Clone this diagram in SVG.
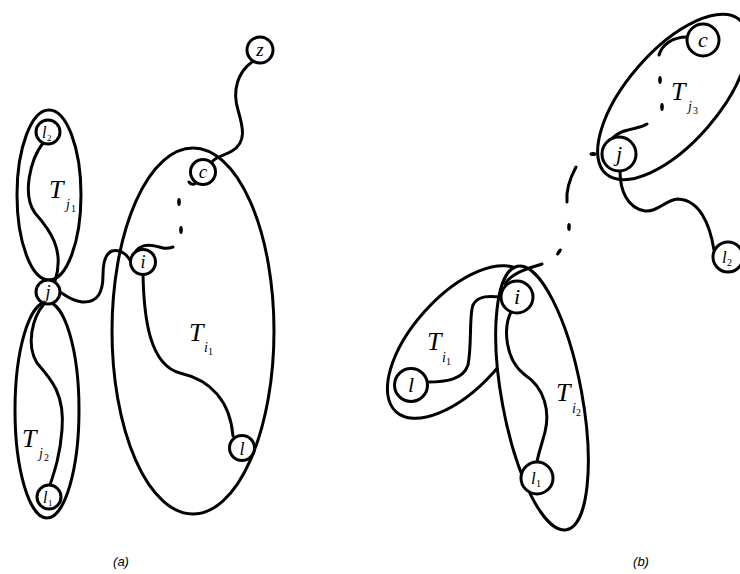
<svg xmlns="http://www.w3.org/2000/svg" width="740" height="574" viewBox="0 0 740 574">
<style>
.e{fill:none;stroke:#000;stroke-width:3}
.ew{fill:#fff;stroke:#000;stroke-width:3}
.n{fill:#fff;stroke:#000;stroke-width:3}
.c{fill:none;stroke:#000;stroke-width:3;stroke-linecap:round}
.d{fill:#000}
.t{font-family:"Liberation Serif","Times New Roman",serif;font-style:italic;fill:#000}
.u{font-style:normal}
.T{font-size:26px}
.s{font-size:14px}
.ss{font-size:10px}
.cap{font-family:"Liberation Sans",Arial,sans-serif;font-style:italic;font-size:13px;fill:#000}
</style>
<rect width="740" height="574" fill="#fff"/>

<!-- trees (a) -->
<g id="tree-Tj1"><ellipse class="e" cx="49" cy="195" rx="32" ry="85"/>
<text class="t"><tspan class="T" x="49" y="198">T</tspan><tspan class="s" x="66" y="209">j</tspan><tspan class="u ss" x="71" y="212">1</tspan></text></g>
<g id="tree-Tj2"><ellipse class="e" cx="47" cy="410" rx="32" ry="108"/>
<text class="t"><tspan class="T" x="22" y="447">T</tspan><tspan class="s" x="39" y="458">j</tspan><tspan class="u ss" x="44" y="461">2</tspan></text></g>
<g id="tree-Ti1a"><ellipse class="e" cx="193" cy="331" rx="81" ry="183"/>
<text class="t"><tspan class="T" x="189" y="341">T</tspan><tspan class="s" x="204" y="352">i</tspan><tspan class="u ss" x="208" y="355">1</tspan></text></g>

<!-- trees (b) -->
<g id="tree-Tj3"><ellipse class="e" cx="673" cy="97" rx="102" ry="46" transform="rotate(-49 673 97)"/>
<text class="t"><tspan class="T" x="671" y="100">T</tspan><tspan class="s" x="688" y="111">j</tspan><tspan class="u ss" x="693" y="114">3</tspan></text></g>
<g id="tree-Ti1b"><ellipse class="e" cx="459" cy="342" rx="94" ry="46" transform="rotate(-48 459 342)"/>
<text class="t"><tspan class="T" x="427" y="350">T</tspan><tspan class="s" x="442" y="362">i</tspan><tspan class="u ss" x="446" y="365">1</tspan></text></g>
<g id="tree-Ti2"><ellipse class="ew" cx="542" cy="398" rx="40" ry="134" transform="rotate(-10.5 542 398)"/>
<text class="t"><tspan class="T" x="556" y="401">T</tspan><tspan class="s" x="572" y="413">i</tspan><tspan class="u ss" x="576" y="416">2</tspan></text></g>

<!-- connectors -->
<g id="connectors">
<path class="c" d="M252,62 C238,72 232,90 238,110 C243,127 247,142 232,151 C224,156 216,156 212,162"/>
<path class="c" d="M196,183 Q192,186 189,182"/>
<ellipse class="d" cx="179" cy="202" rx="1.8" ry="4"/>
<ellipse class="d" cx="181" cy="230" rx="1.8" ry="4"/>
<path class="c" d="M136,251 C144,241 158,247 163,248 C167,249 170,248 173,247"/>
<path class="c" d="M131,262 C127,254 120,249 112,251 C104,254 103,265 103,275 C103,292 98,303 82,302 C72,301 66,296 60,292"/>
<path class="c" d="M143,275 C144,320 150,365 180,373 C210,380 230,400 233,436"/>
<path class="c" d="M43,143 C30,160 22,195 35,213 C50,230 65,250 55,281"/>
<path class="c" d="M44,304 C32,318 26,345 37,363 C52,380 65,395 62,430 C60,455 55,470 50,485"/>

<path class="c" d="M687,37 C672,37 662,45 659,55"/>
<ellipse class="d" cx="660" cy="80" rx="1.8" ry="4"/>
<ellipse class="d" cx="662" cy="107" rx="1.8" ry="4"/>
<path class="c" d="M612,139 C620,128 638,130 647,124"/>
<ellipse class="d" cx="593" cy="154" rx="3.5" ry="2"/>
<path class="c" d="M576,167 C569,180 566,192 567,202"/>
<ellipse class="d" cx="569" cy="227" rx="1.8" ry="4"/>
<ellipse class="d" cx="559" cy="252" rx="1.8" ry="4" transform="rotate(35 559 252)"/>
<path class="c" d="M505,284 C512,272 530,268 542,264"/>
<path class="c" d="M620,171 C620,190 627,208 645,211 C658,212 665,200 678,199 C700,200 710,225 714,250"/>
<path class="c" d="M501,297 C490,296 478,295 473,305 C469,315 472,345 468,365 C463,380 445,382 428,382"/>
<path class="c" d="M511,312 C503,328 505,360 525,375 C545,388 550,412 545,432 C541,447 538,455 537,462"/>
</g>

<!-- nodes (a) -->
<g id="node-z"><circle class="n" cx="260" cy="50" r="13"/><text class="t" x="260" y="56" font-size="19" text-anchor="middle">z</text></g>
<g id="node-c-a"><circle class="n" cx="203" cy="172" r="12.5"/><text class="t" x="203" y="178" font-size="19" text-anchor="middle">c</text></g>
<g id="node-i-a"><circle class="n" cx="143" cy="262" r="12.5"/><text class="t" x="143" y="268" font-size="18" text-anchor="middle">i</text></g>
<g id="node-l-a"><circle class="n" cx="242" cy="448" r="12.5"/><text class="t" x="242" y="455" font-size="18" text-anchor="middle">l</text></g>
<g id="node-j-a"><circle class="n" cx="48" cy="292" r="12"/><text class="t" x="48" y="298" font-size="18" text-anchor="middle">j</text></g>
<g id="node-l2-a"><circle class="n" cx="48" cy="132" r="12"/><text class="t"><tspan x="42" y="138" font-size="16">l</tspan><tspan class="u" x="47" y="141" font-size="9">2</tspan></text></g>
<g id="node-l1-a"><circle class="n" cx="49" cy="497" r="12"/><text class="t"><tspan x="43" y="503" font-size="16">l</tspan><tspan class="u" x="48" y="506" font-size="9">1</tspan></text></g>

<!-- nodes (b) -->
<g id="node-c-b"><circle class="n" cx="703" cy="40" r="16"/><text class="t" x="703" y="47" font-size="22" text-anchor="middle">c</text></g>
<g id="node-j-b"><circle class="n" cx="619" cy="154" r="17"/><text class="t" x="619" y="161" font-size="22" text-anchor="middle">j</text></g>
<g id="node-l2-b"><circle class="n" cx="728" cy="257" r="15"/><text class="t"><tspan x="722" y="263" font-size="17">l</tspan><tspan class="u" x="727" y="266" font-size="10">2</tspan></text></g>
<g id="node-i-b"><circle class="n" cx="517" cy="297" r="16"/><text class="t" x="517" y="304" font-size="22" text-anchor="middle">i</text></g>
<g id="node-l-b"><circle class="n" cx="411" cy="385" r="16.5"/><text class="t" x="411" y="392" font-size="22" text-anchor="middle">l</text></g>
<g id="node-l1-b"><circle class="n" cx="537" cy="478" r="16"/><text class="t"><tspan x="531" y="484" font-size="17">l</tspan><tspan class="u" x="536" y="487" font-size="10">1</tspan></text></g>

<text class="cap" x="121" y="566" text-anchor="middle">(a)</text>
<text class="cap" x="641" y="566" text-anchor="middle">(b)</text>
</svg>
